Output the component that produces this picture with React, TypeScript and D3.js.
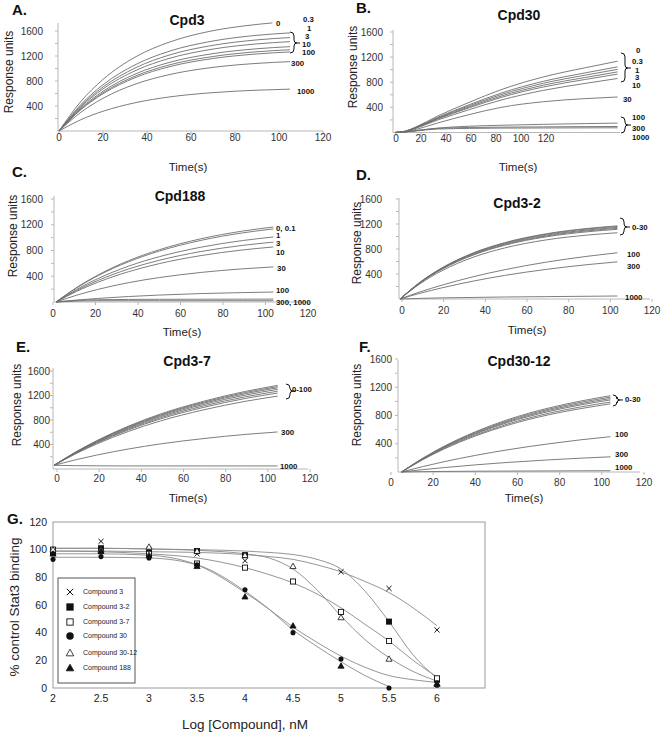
import React, { useEffect, useRef } from "react";
import * as d3 from "d3";

const FONT = "'Liberation Sans', Arial, Helvetica, sans-serif";

const responseTicks = [400, 800, 1200, 1600];
const responseMinor = [200, 400, 600, 800, 1000, 1200, 1400, 1600];
const timeTicks = [0, 20, 40, 60, 80, 100, 120];

// ---- A. Cpd3
const cpd3Times = [0, 10, 20, 35, 50, 70, 90, 105];
const cpd3TopTimes = [0, 10, 20, 35, 50, 70, 85, 97];
const cpd3Curves = [
  { t: cpd3TopTimes, v: [0, 475, 825, 1190, 1420, 1605, 1685, 1730] },
  { t: cpd3Times, v: [0, 425, 740, 1066, 1275, 1440, 1531, 1570] },
  { t: cpd3Times, v: [0, 405, 704, 1015, 1214, 1371, 1458, 1495] },
  { t: cpd3Times, v: [0, 388, 674, 971, 1161, 1311, 1394, 1430] },
  { t: cpd3Times, v: [0, 366, 636, 917, 1096, 1238, 1316, 1350] },
  { t: cpd3Times, v: [0, 352, 612, 883, 1056, 1192, 1268, 1300] },
  { t: cpd3Times, v: [0, 343, 596, 859, 1027, 1160, 1233, 1265] },
  { t: cpd3Times, v: [0, 301, 523, 754, 901, 1018, 1082, 1110] },
  { t: cpd3Times, v: [0, 182, 316, 455, 544, 614, 653, 670] },
];
const cpd3Labels = [
  { text: "0", t: 98.6, v: 1728 },
  { text: "0.3", t: 110.9, v: 1784 },
  { text: "1", t: 112.7, v: 1650 },
  { text: "3", t: 111.8, v: 1510 },
  { text: "10", t: 110.5, v: 1390 },
  { text: "100", t: 110.5, v: 1258 },
  { text: "300", t: 105.5, v: 1088 },
  { text: "1000", t: 108.2, v: 640 },
];
const cpd3Brackets = [{ t: 105, top: 1584, bottom: 1248, tip: 1408 }];

// ---- B. Cpd30
const cpd30Times = [0, 5, 10, 20, 35, 50, 70, 90, 105];
const cpd30Curves = [
  [0, 23, 91, 260, 480, 681, 885, 1033, 1135],
  [0, 21, 84, 240, 442, 627, 815, 951, 1045],
  [0, 20, 80, 230, 425, 603, 784, 915, 1005],
  [0, 19, 77, 221, 408, 579, 753, 878, 965],
  [0, 19, 74, 213, 393, 558, 725, 846, 930],
  [0, 17, 69, 197, 363, 516, 671, 783, 860],
  [0, 12, 50, 150, 285, 400, 490, 540, 565],
  [0, 10, 30, 70, 100, 115, 130, 142, 150],
  [0, 10, 30, 65, 80, 85, 90, 94, 96],
  [0, 8, 25, 55, 65, 70, 72, 74, 75],
].map((v) => ({ t: cpd30Times, v }));
const cpd30Labels = [
  { text: "0", t: 113.7, v: 1314 },
  { text: "0.3", t: 111.8, v: 1128 },
  { text: "1", t: 113.2, v: 998 },
  { text: "3", t: 113.2, v: 878 },
  { text: "10", t: 111.8, v: 750 },
  { text: "30", t: 107.5, v: 533 },
  { text: "100", t: 111.8, v: 250 },
  { text: "300", t: 111.8, v: 72 },
  { text: "1000", t: 111.8, v: -75 },
];
const cpd30Brackets = [
  { t: 106.6, top: 1266, bottom: 804, tip: 1027 },
  { t: 106.6, top: 247, bottom: -8, tip: 119 },
];

// ---- C. Cpd188
const cpd188Times = [0, 10, 20, 35, 50, 70, 90, 105];
const cpd188Curves = [
  [0, 226, 415, 641, 813, 982, 1101, 1165],
  [0, 220, 404, 624, 792, 957, 1073, 1135],
  [0, 196, 360, 556, 705, 851, 954, 1010],
  [0, 180, 331, 512, 649, 784, 879, 930],
  [0, 166, 304, 470, 597, 721, 808, 855],
  [0, 106, 194, 300, 380, 459, 515, 545],
  [0, 30, 55, 85, 108, 131, 146, 155],
  [0, 25, 35, 40, 42, 43, 44, 45],
  [0, 15, 20, 20, 20, 20, 20, 20],
].map((v) => ({ t: cpd188Times, v }));
const cpd188Labels = [
  { text: "0, 0.1", t: 106.3, v: 1152 },
  { text: "1", t: 106.3, v: 1030 },
  { text: "3", t: 106.3, v: 912 },
  { text: "10", t: 106.3, v: 776 },
  { text: "30", t: 106.8, v: 528 },
  { text: "100", t: 106.3, v: 186 },
  { text: "300, 1000", t: 106.3, v: -5 },
];

// ---- D. Cpd3-2
const cpd3x2Times = [0, 10, 20, 35, 50, 70, 90, 104];
const cpd3x2Curves = [
  [0, 280, 497, 737, 901, 1044, 1130, 1170],
  [0, 277, 493, 731, 893, 1035, 1121, 1160],
  [0, 274, 487, 721, 882, 1021, 1106, 1145],
  [0, 270, 480, 712, 870, 1008, 1092, 1130],
  [0, 266, 474, 702, 859, 995, 1077, 1115],
  [0, 253, 451, 668, 816, 946, 1024, 1060],
  [0, 118, 221, 356, 468, 590, 685, 740],
  [0, 95, 178, 286, 377, 474, 551, 595],
  [0, 10, 18, 25, 32, 38, 44, 48],
].map((v) => ({ t: cpd3x2Times, v }));
const cpd3x2Labels = [
  { text: "0-30", t: 111, v: 1152 },
  { text: "100", t: 108.6, v: 720 },
  { text: "300", t: 108.6, v: 528 },
  { text: "1000", t: 107.7, v: 32 },
];
const cpd3x2Brackets = [{ t: 105.3, top: 1296, bottom: 1024, tip: 1152 }];

// ---- E. Cpd3-7
const cpd3x7Times = [0, 10, 20, 35, 50, 70, 90, 105];
const cpd3x7Curves = [
  [60, 274, 461, 700, 898, 1104, 1268, 1365],
  [60, 271, 455, 690, 885, 1088, 1250, 1345],
  [60, 267, 448, 680, 872, 1072, 1231, 1325],
  [60, 263, 441, 668, 856, 1052, 1208, 1300],
  [60, 258, 431, 653, 837, 1028, 1180, 1270],
  [60, 254, 422, 638, 818, 1004, 1153, 1240],
  [60, 245, 407, 614, 785, 964, 1106, 1190],
  [60, 149, 227, 327, 410, 496, 565, 605],
  [60, 55, 52, 50, 50, 50, 50, 50],
].map((v) => ({ t: cpd3x7Times, v }));
const cpd3x7Labels = [
  { text: "0-100", t: 111.7, v: 1305 },
  { text: "300", t: 106.6, v: 604 },
  { text: "1000", t: 106.1, v: 49 },
];
const cpd3x7Brackets = [{ t: 108.9, top: 1387, bottom: 1142, tip: 1272 }];

// ---- F. Cpd30-12
const cpd30x12Times = [5, 15, 25, 40, 55, 75, 90, 104];
const cpd30x12Curves = [
  [0, 194, 362, 570, 738, 908, 1005, 1080],
  [0, 191, 355, 560, 724, 891, 987, 1060],
  [0, 187, 348, 549, 710, 875, 968, 1040],
  [0, 184, 342, 539, 697, 858, 950, 1020],
  [0, 178, 332, 523, 676, 833, 922, 990],
  [0, 174, 323, 510, 659, 812, 898, 965],
  [0, 76, 145, 235, 313, 400, 456, 500],
  [0, 33, 62, 101, 135, 172, 196, 215],
  [0, 5, 8, 11, 13, 15, 17, 18],
].map((v) => ({ t: cpd30x12Times, v }));
const cpd30x12Labels = [
  { text: "0-30", t: 110.9, v: 1034 },
  { text: "100", t: 106.2, v: 538 },
  { text: "300", t: 106.2, v: 255 },
  { text: "1000", t: 106.2, v: 71 },
];
const cpd30x12Brackets = [{ t: 105.2, top: 1091, bottom: 935, tip: 1020 }];

// ---- G. dose response
const logConc = [2, 2.5, 3, 3.5, 4, 4.5, 5, 5.5, 6];
const comp3 = [99, 106, 100, 97, 92, null, 84, 72, 42];
const comp3x2 = [98, 101, 98, 99, 96, null, null, 48, 6];
const comp3x7 = [100, 99, 97, 90, 87, 77, 55, 34, 7];
const comp30 = [93, 95, 94, 89, 71, 40, 21, 0, 2];
const comp30x12 = [100, 100, 102, 99, 96, 88, 51, 21, 3];
const comp188 = [97, 99, 96, 88, 66, 45, 16, null, 3];

const fitConc = [2, 2.5, 3, 3.5, 4, 4.25, 4.5, 4.75, 5, 5.25, 5.5, 5.75, 6];
const fit3 = [99, 99, 98.5, 98, 96.5, 95, 93, 89, 84, 77, 69, 58, 45];
const fit3x2 = [101, 101, 100.5, 100, 99, 98, 96.5, 93, 86, 70, 48, 24, 7];
const fit3x7 = [99, 98.5, 97, 94, 87, 82, 76, 68, 58, 46, 34, 20, 8];
const fit30x12 = [101, 101, 100.5, 99.5, 97, 94, 86, 71, 52, 35, 22, 12, 5];
const fit30 = [94.5, 94.5, 94, 89, 70, 57, 42, 30, 19, 9, 1, null, null];
const fit188 = [97, 97, 96, 89, 69, 57, 44, 33, 23, 15, 9, 6, 4];

const pctTicks = [0, 20, 40, 60, 80, 100, 120];
const logTicks = [2, 2.5, 3, 3.5, 4, 4.5, 5, 5.5, 6];

const compounds = [
  { name: "Compound 3", marker: "x", pts: comp3, fit: fit3 },
  { name: "Compound 3-2", marker: "fsquare", pts: comp3x2, fit: fit3x2 },
  { name: "Compound 3-7", marker: "osquare", pts: comp3x7, fit: fit3x7 },
  { name: "Compound 30", marker: "fcircle", pts: comp30, fit: fit30 },
  { name: "Compound 30-12", marker: "otri", pts: comp30x12, fit: fit30x12 },
  { name: "Compound 188", marker: "ftri", pts: comp188, fit: fit188 },
];

// panel layout (pixels)
const panels = [
  {
    letter: "A.", lx: 12, ly: 15, title: "Cpd3", tx: 187, ty: 25,
    axisX: 58, axisTop: 23, y0: 131, y1600: 31, curveRange: [59, 279],
    tickRange: [59, 323], tickY: 141, xEnd: 323, labelRight: 43,
    ylab: [9, 72], time: [188, 171],
    curves: cpd3Curves, labels: cpd3Labels, brackets: cpd3Brackets,
  },
  {
    letter: "B.", lx: 356, ly: 13, title: "Cpd30", tx: 519, ty: 20,
    axisX: 393, axisTop: 30, y0: 132.5, y1600: 32, curveRange: [395, 607],
    tickRange: [396, 546], tickY: 142, xEnd: 620, labelRight: 383,
    ylab: [353, 67], time: [518, 171],
    curves: cpd30Curves, labels: cpd30Labels, brackets: cpd30Brackets,
  },
  {
    letter: "C.", lx: 12, ly: 177, title: "Cpd188", tx: 180, ty: 201,
    axisX: 54, axisTop: 196, y0: 302, y1600: 199, curveRange: [56, 263],
    tickRange: [53, 308], tickY: 317, xEnd: 308, labelRight: 43,
    ylab: [13, 236], time: [182, 336],
    curves: cpd188Curves, labels: cpd188Labels, brackets: [],
  },
  {
    letter: "D.", lx: 356, ly: 180, title: "Cpd3-2", tx: 517, ty: 208,
    axisX: 399, axisTop: 198, y0: 299, y1600: 199, curveRange: [400, 609],
    tickRange: [402, 652], tickY: 314, xEnd: 650, labelRight: 382,
    ylab: [357, 243], time: [527, 334],
    curves: cpd3x2Curves, labels: cpd3x2Labels, brackets: cpd3x2Brackets,
  },
  {
    letter: "E.", lx: 16, ly: 352, title: "Cpd3-7", tx: 187, ty: 366,
    axisX: 53, axisTop: 368, y0: 469, y1600: 371, curveRange: [54, 267],
    tickRange: [57, 310], tickY: 482, xEnd: 308, labelRight: 50,
    ylab: [17, 405], time: [188, 502],
    curves: cpd3x7Curves, labels: cpd3x7Labels, brackets: cpd3x7Brackets,
  },
  {
    letter: "F.", lx: 359, ly: 352, title: "Cpd30-12", tx: 519, ty: 366,
    axisX: 398, axisTop: 360, y0: 472, y1600: 359, curveRange: [391, 602],
    tickRange: [391, 644], tickY: 486, xEnd: 640, labelRight: 392,
    ylab: [357, 405], time: [524, 502],
    curves: cpd30x12Curves, labels: cpd30x12Labels, brackets: cpd30x12Brackets,
  },
];

function drawMarker(g: any, kind: string, cx: number, cy: number, s = 1) {
  const h = 3 * s;
  if (kind === "x") {
    g.append("path")
      .attr("d", `M${cx - h},${cy - h}L${cx + h},${cy + h}M${cx - h},${cy + h}L${cx + h},${cy - h}`)
      .attr("stroke", "#111").attr("stroke-width", 1).attr("fill", "none");
  } else if (kind === "fsquare" || kind === "osquare") {
    g.append("rect")
      .attr("x", cx - h).attr("y", cy - h).attr("width", 2 * h).attr("height", 2 * h)
      .attr("fill", kind === "fsquare" ? "#111" : "#fff")
      .attr("stroke", "#111").attr("stroke-width", 0.9);
  } else if (kind === "fcircle") {
    g.append("circle").attr("cx", cx).attr("cy", cy).attr("r", h).attr("fill", "#111");
  } else {
    const r = 3.6 * s;
    g.append("path")
      .attr("d", `M${cx},${cy - r}L${cx + r},${cy + r * 0.75}L${cx - r},${cy + r * 0.75}Z`)
      .attr("fill", kind === "ftri" ? "#111" : "#fff")
      .attr("stroke", "#111").attr("stroke-width", 0.8);
  }
}

export default function App() {
  const svgRef = useRef<SVGSVGElement>(null);

  useEffect(() => {
    const svg = d3.select(svgRef.current);
    svg.selectAll("*").remove();
    svg.append("rect").attr("width", 661).attr("height", 734).attr("fill", "#fff");

    panels.forEach((p) => {
      const x = d3.scaleLinear().domain([0, 100]).range(p.curveRange);
      const xt = d3.scaleLinear().domain([0, 120]).range(p.tickRange);
      const y = d3.scaleLinear().domain([0, 1600]).range([p.y0, p.y1600]);
      const g = svg.append("g").attr("font-family", FONT);

      // axes
      g.append("line")
        .attr("x1", p.axisX).attr("x2", p.axisX).attr("y1", p.axisTop).attr("y2", p.y0)
        .attr("stroke", "#b8b8b8");
      g.append("line")
        .attr("x1", p.axisX).attr("x2", p.xEnd).attr("y1", p.y0).attr("y2", p.y0)
        .attr("stroke", "#b8b8b8");
      g.selectAll(".ymin").data(responseMinor).enter().append("line")
        .attr("x1", p.axisX - 3).attr("x2", p.axisX)
        .attr("y1", (d) => y(d)).attr("y2", (d) => y(d))
        .attr("stroke", "#b8b8b8");
      g.selectAll(".ylab").data(responseTicks).enter().append("text")
        .attr("x", p.labelRight).attr("y", (d) => y(d))
        .attr("dy", "0.35em").attr("text-anchor", "end")
        .attr("font-size", 10).attr("fill", "#333")
        .text((d) => d);
      g.selectAll(".xtk").data(timeTicks).enter().append("line")
        .attr("x1", (d) => xt(d)).attr("x2", (d) => xt(d))
        .attr("y1", p.y0).attr("y2", p.y0 + 3)
        .attr("stroke", "#b8b8b8");
      g.selectAll(".xlab").data(timeTicks).enter().append("text")
        .attr("x", (d) => xt(d)).attr("y", p.tickY)
        .attr("text-anchor", "middle").attr("font-size", 10).attr("fill", "#333")
        .text((d) => d);

      g.append("text")
        .attr("x", p.time[0]).attr("y", p.time[1])
        .attr("text-anchor", "middle").attr("font-size", 11.5).attr("fill", "#222")
        .text("Time(s)");
      g.append("text")
        .attr("transform", `translate(${p.ylab[0]},${p.ylab[1]}) rotate(-90)`)
        .attr("dy", "0.35em").attr("text-anchor", "middle")
        .attr("font-size", 12).attr("fill", "#222")
        .text("Response units");
      g.append("text")
        .attr("x", p.tx).attr("y", p.ty).attr("text-anchor", "middle")
        .attr("font-size", 14).attr("font-weight", "bold").attr("fill", "#111")
        .text(p.title);
      g.append("text")
        .attr("x", p.lx).attr("y", p.ly)
        .attr("font-size", 15).attr("font-weight", "bold").attr("fill", "#111")
        .text(p.letter);

      // curves
      const line = d3
        .line<[number, number]>()
        .x((d) => x(d[0]))
        .y((d) => y(d[1]))
        .curve(d3.curveMonotoneX);
      p.curves.forEach((c) => {
        g.append("path")
          .datum(c.t.map((t, i) => [t, c.v[i]] as [number, number]))
          .attr("d", line)
          .attr("fill", "none")
          .attr("stroke", "#6e6e6e")
          .attr("stroke-width", 0.9);
      });

      // concentration labels
      g.selectAll(".clab").data(p.labels).enter().append("text")
        .attr("x", (d) => x(d.t)).attr("y", (d) => y(d.v))
        .attr("dy", "0.35em").attr("font-size", 7.8).attr("font-weight", "bold")
        .attr("fill", "#111")
        .text((d) => d.text);

      p.brackets.forEach((b) => {
        const bx = x(b.t), yt = y(b.top), yb = y(b.bottom), ym = y(b.tip);
        g.append("path")
          .attr("d",
            `M${bx},${yt}Q${bx + 4},${yt} ${bx + 4},${yt + 4}L${bx + 4},${ym - 3}` +
            `Q${bx + 4},${ym} ${bx + 7},${ym}Q${bx + 4},${ym} ${bx + 4},${ym + 3}` +
            `L${bx + 4},${yb - 4}Q${bx + 4},${yb} ${bx},${yb}M${bx + 7},${ym}L${bx + 10},${ym}`)
          .attr("fill", "none").attr("stroke", "#111").attr("stroke-width", 1);
      });
    });

    // ---- panel G
    const gx = d3.scaleLinear().domain([2, 6.5]).range([53, 485]);
    const gy = d3.scaleLinear().domain([0, 120]).range([688, 522]);
    const G = svg.append("g").attr("font-family", FONT);

    G.append("rect")
      .attr("x", gx(2)).attr("y", gy(120))
      .attr("width", gx(6.5) - gx(2)).attr("height", gy(0) - gy(120))
      .attr("fill", "none").attr("stroke", "#9a9a9a");
    G.selectAll(".gyt").data(pctTicks).enter().append("text")
      .attr("x", 47).attr("y", (d) => gy(d)).attr("dy", "0.35em")
      .attr("text-anchor", "end").attr("font-size", 10.5).attr("fill", "#222")
      .text((d) => d);
    G.selectAll(".gxt").data(logTicks).enter().append("text")
      .attr("x", (d) => gx(d)).attr("y", 702)
      .attr("text-anchor", "middle").attr("font-size", 10.5).attr("fill", "#222")
      .text((d) => d);
    G.append("text")
      .attr("transform", "translate(14,607) rotate(-90)")
      .attr("dy", "0.35em").attr("text-anchor", "middle")
      .attr("font-size", 13.5).attr("fill", "#222")
      .text("% control Stat3 binding");
    G.append("text")
      .attr("x", 245).attr("y", 729).attr("text-anchor", "middle")
      .attr("font-size", 13.5).attr("fill", "#222")
      .text("Log [Compound], nM");
    G.append("text")
      .attr("x", 7).attr("y", 524)
      .attr("font-size", 15).attr("font-weight", "bold").attr("fill", "#111")
      .text("G.");

    const fitLine = d3
      .line<[number, number | null]>()
      .defined((d) => d[1] != null)
      .x((d) => gx(d[0]))
      .y((d) => gy(d[1] as number))
      .curve(d3.curveMonotoneX);
    compounds.forEach((c) => {
      G.append("path")
        .datum(fitConc.map((xv, i) => [xv, c.fit[i]] as [number, number | null]))
        .attr("d", fitLine)
        .attr("fill", "none").attr("stroke", "#8a8a8a").attr("stroke-width", 0.9);
    });
    compounds.forEach((c) => {
      c.pts.forEach((v, i) => {
        if (v == null) return;
        drawMarker(G, c.marker, gx(logConc[i]), gy(v), 0.85);
      });
    });

    // legend
    const L = G.append("g");
    L.append("rect")
      .attr("x", 58).attr("y", 578).attr("width", 77).attr("height", 105)
      .attr("fill", "#fff").attr("stroke", "#555");
    const rows = [592, 607, 622, 636, 653, 668];
    compounds.forEach((c, i) => {
      drawMarker(L, c.marker, 70, rows[i], c.marker === "fcircle" ? 1.25 : 1.05);
      L.append("text")
        .attr("x", 83).attr("y", rows[i]).attr("dy", "0.35em")
        .attr("font-size", 7).attr("fill", "#222")
        .text(c.name);
    });
  }, []);

  return (
    <svg
      ref={svgRef}
      width={661}
      height={734}
      style={{ position: "absolute", left: 0, top: 0 }}
    />
  );
}
